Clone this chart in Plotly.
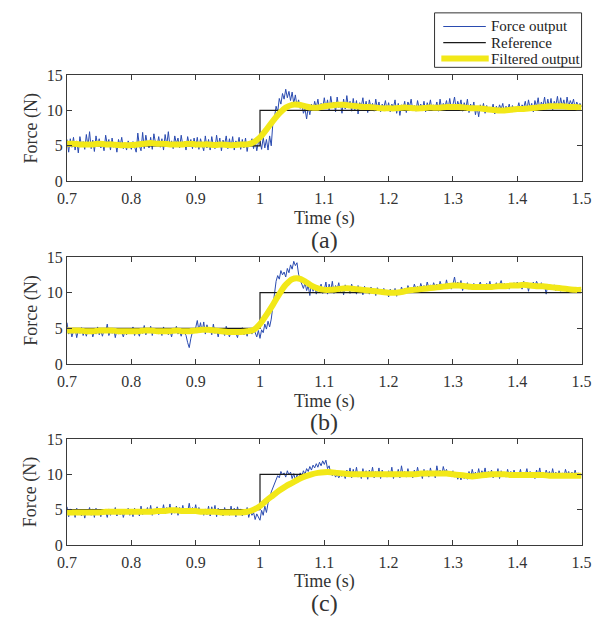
import numpy as np
import plotly.graph_objects as go

# sample times
time_raw = np.round(np.arange(0.7, 1.50001, 0.0025), 4)
time_filt = np.round(np.arange(0.7, 1.50001, 0.01), 3)

ref_time = [0.7, 1.0, 1.0, 1.5]
ref_force = [5, 5, 10, 10]

force_a = [
    5.9, 4.1, 6.0, 4.8, 6.2, 4.4, 5.7, 4.0, 6.3, 5.0, 5.6, 4.5, 6.6, 4.9, 7.0, 4.6, 5.8, 4.2, 6.4, 5.1,
    6.0, 4.7, 5.4, 4.3, 6.5, 5.2, 5.9, 4.4, 6.1, 4.8, 5.5, 4.1, 5.9, 5.0, 6.2, 4.6, 5.3, 4.4, 5.7, 5.0,
    4.5, 5.6, 4.8, 4.1, 6.8, 5.0, 4.3, 6.9, 4.6, 6.5, 5.2, 4.7, 6.2, 4.5, 6.7, 5.4, 5.0, 6.3, 4.8, 6.0,
    4.4, 6.6, 5.1, 7.0, 4.9, 5.7, 4.6, 6.4, 5.3, 6.1, 4.7, 6.5, 5.0, 5.6, 4.4, 6.3, 5.2, 5.9, 4.6, 6.1,
    4.8, 6.2, 4.5, 6.0, 5.1, 4.3, 6.4, 4.7, 5.9, 4.4, 6.3, 5.0, 4.6, 6.5, 4.9, 6.1, 4.3, 5.8, 5.2, 6.4,
    4.6, 6.0, 4.8, 6.3, 4.4, 5.7, 5.1, 6.2, 4.5, 5.9, 4.7, 6.1, 4.2, 5.6, 5.0, 6.0, 4.6, 5.8, 4.3, 5.5,
    5.7, 4.5, 6.2, 4.7, 5.9, 4.4, 6.4, 5.0, 8.2, 9.0, 10.6, 9.8, 11.7, 10.9, 12.4, 11.6, 13.0, 11.8, 12.7, 11.4,
    12.6, 11.0, 12.2, 10.6, 11.5, 10.3, 11.0, 9.6, 10.2, 8.8, 10.5, 9.4, 10.9, 10.0, 11.3, 10.4, 11.6, 10.1, 11.0, 10.3,
    11.8, 10.3, 11.5, 10.0, 12.0, 10.6, 11.2, 9.8, 11.9, 10.4, 11.0, 9.6, 11.6, 10.2, 12.1, 10.5, 11.3, 9.9, 11.7, 10.1,
    11.4, 9.5, 11.1, 10.6, 11.8, 10.0, 11.3, 9.7, 11.5, 10.4, 11.0, 9.9, 11.6, 10.3, 11.2, 9.8, 10.9, 10.4, 11.4, 10.1,
    11.1, 9.8, 10.9, 10.4, 11.5, 9.6, 11.0, 9.3, 10.8, 10.2, 11.3, 9.7, 11.2, 10.5, 11.6, 10.0, 10.7, 9.9, 11.4, 10.3,
    10.9, 10.1, 11.3, 9.8, 11.1, 10.4, 11.5, 10.0, 10.8, 10.3, 11.2, 9.9, 11.6, 10.2, 11.0, 10.5, 11.4, 10.1, 11.7, 10.3,
    10.8, 11.9, 10.2, 11.3, 10.5, 11.5, 9.9, 11.1, 10.3, 11.6, 9.7, 10.9, 10.1, 11.2, 9.4, 10.6, 9.1, 10.8, 10.0, 11.0,
    9.6, 10.7, 9.8, 10.5, 10.1, 10.9, 9.5, 10.6, 9.9, 10.8, 10.2, 11.0, 9.7, 10.6, 10.0, 10.9, 9.8, 10.7, 10.1, 10.5,
    10.2, 11.1, 9.9, 10.8, 10.4, 11.3, 10.0, 11.5, 10.3, 11.0, 9.8, 11.4, 10.5, 11.8, 10.1, 11.2, 10.6, 11.9, 10.2, 11.6,
    10.4, 11.7, 10.0, 11.3, 10.7, 12.0, 10.3, 11.8, 10.6, 11.5, 10.2, 11.9, 10.5, 11.4, 10.8, 11.6, 10.3, 11.2, 10.6, 11.0,
    10.5,
]
force_b = [
    5.8, 4.2, 4.9, 3.8, 4.6, 5.0, 3.7, 4.7, 4.3, 5.1, 4.0, 4.6, 3.9, 4.8, 4.4, 5.0, 3.8, 4.5, 4.2, 5.2,
    4.1, 4.7, 3.9, 4.8, 4.5, 5.6, 4.0, 4.6, 4.3, 5.0, 3.7, 4.8, 4.2, 4.9, 4.4, 3.8, 4.7, 4.1, 5.0, 4.4,
    4.3, 5.2, 4.0, 4.8, 4.5, 3.9, 5.0, 4.3, 5.4, 4.1, 4.7, 4.4, 5.3, 4.0, 4.9, 4.5, 5.0, 4.2, 4.8, 4.0,
    5.2, 4.4, 5.0, 4.1, 4.7, 3.8, 4.9, 4.5, 5.3, 4.2, 4.6, 3.9, 4.8, 4.3, 4.0, 3.0, 2.3, 3.6, 4.5, 4.9,
    5.1, 6.1, 4.7, 5.8, 4.5, 5.9, 4.2, 5.5, 4.6, 4.9, 4.1, 5.6, 4.3, 4.8, 3.8, 5.0, 4.4, 4.7, 4.0, 5.3,
    4.5, 3.8, 4.6, 4.2, 5.0, 4.3, 3.7, 4.8, 4.4, 5.1, 4.1, 4.6, 3.9, 4.9, 4.5, 4.2, 5.0, 4.4, 3.8, 4.7,
    3.6, 4.8, 4.4, 5.6, 4.9, 6.0, 5.2, 6.3, 8.0, 9.8, 11.6, 12.4, 11.9, 13.1, 12.5, 12.9, 12.2, 13.4, 12.8, 13.9,
    13.3, 14.4, 13.8, 14.2, 12.6, 11.8, 11.2, 10.6, 11.4, 10.3, 11.0, 9.6, 11.3, 10.2, 11.1, 9.8, 10.7, 10.4, 11.2, 9.9,
    10.4, 11.5, 9.8, 11.2, 10.3, 11.6, 9.9, 11.0, 10.5, 11.4, 10.1, 10.9, 9.7, 11.1, 10.3, 10.8, 9.9, 11.2, 10.4, 10.7,
    9.8, 11.0, 10.2, 10.6, 9.7, 10.9, 10.3, 10.5, 9.8, 10.8, 10.1, 10.4, 9.6, 10.7, 10.2, 10.5, 9.9, 10.6, 10.1, 10.3,
    9.4, 10.5, 10.0, 9.7, 10.6, 9.5, 10.3, 9.8, 10.8, 10.2, 10.6, 10.0, 11.0, 10.4, 10.7, 10.2, 11.2, 10.5, 10.9, 10.3,
    11.3, 10.6, 11.0, 10.4, 11.5, 10.7, 11.1, 10.5, 11.4, 10.8, 11.2, 10.4, 11.6, 10.9, 11.0, 10.6, 11.8, 10.7, 11.3, 10.5,
    11.2, 12.2, 10.8, 11.5, 10.9, 11.7, 10.3, 11.1, 10.7, 11.4, 10.5, 11.0, 10.8, 11.3, 10.6, 11.2, 10.9, 11.5, 10.7, 11.1,
    10.5, 11.3, 10.8, 11.6, 10.4, 11.2, 10.9, 11.4, 10.6, 11.1, 11.7, 10.8, 11.3, 10.7, 11.0, 10.5, 11.2, 10.9, 11.4, 10.8,
    11.5, 10.8, 11.2, 10.5, 11.6, 10.9, 11.4, 10.2, 11.3, 10.7, 11.5, 10.9, 11.6, 11.1, 10.8, 11.4, 10.6, 11.0, 9.8, 11.2,
    10.4, 10.9, 10.7, 11.1, 10.3, 11.0, 10.6, 10.2, 10.8, 10.4, 10.9, 10.1, 10.7, 10.3, 10.0, 10.8, 10.4, 10.6, 10.2, 10.5,
    10.4,
]
force_c = [
    5.4, 4.0, 5.1, 4.3, 4.9, 3.9, 5.2, 4.4, 4.8, 4.1, 5.0, 3.8, 4.9, 4.5, 5.3, 4.2, 5.1, 3.9, 5.2, 4.3,
    4.8, 4.0, 5.0, 4.4, 4.7, 3.9, 5.1, 4.2, 4.9, 4.5, 5.3, 4.1, 4.8, 4.3, 5.0, 3.9, 4.7, 4.4, 5.2, 4.2,
    4.9, 4.0, 5.2, 4.4, 5.0, 4.1, 5.5, 4.3, 4.9, 4.6, 5.3, 4.4, 5.6, 4.2, 5.0, 4.7, 5.4, 4.3, 5.2, 4.5,
    5.7, 4.4, 5.3, 4.6, 5.8, 4.3, 5.1, 4.5, 5.5, 4.2, 5.3, 4.6, 5.6, 4.4, 5.2, 4.7, 5.9, 4.5, 5.3, 4.6,
    5.7, 4.4, 5.3, 4.6, 5.0, 4.2, 5.1, 4.3, 5.5, 4.1, 5.4, 4.4, 5.6, 4.0, 5.2, 4.3, 4.9, 4.1, 5.3, 4.4,
    5.0, 4.2, 5.5, 4.3, 5.2, 4.0, 5.4, 4.5, 5.1, 4.1, 4.9, 4.3, 5.3, 3.9, 4.8, 4.2, 4.6, 3.6, 4.4, 4.0,
    3.5, 4.9, 4.2, 5.5, 4.6, 5.9, 6.4, 7.5, 8.1, 8.9, 9.3, 9.8, 9.5, 10.4, 9.9, 10.2, 9.6, 10.5, 9.9, 10.3,
    9.4, 10.1, 9.2, 9.9, 9.5, 10.2, 9.7, 10.5, 10.0, 10.8, 10.4, 11.1, 10.6, 11.3, 10.9, 11.5, 11.0, 11.7, 11.2, 11.9,
    11.4, 12.0, 10.8, 11.2, 10.1, 9.8, 10.2, 9.6, 10.0, 9.5, 9.9, 9.7, 10.1, 9.4, 10.6, 9.8, 10.9, 9.5, 10.7, 9.7,
    11.0, 9.6, 10.3, 9.4, 10.8, 9.7, 10.5, 9.3, 10.6, 9.8, 11.0, 9.5, 10.4, 9.7, 10.9, 9.4, 10.6, 9.8, 10.3, 9.6,
    10.5, 9.7, 11.0, 9.4, 10.3, 9.8, 10.7, 9.5, 11.2, 9.9, 10.4, 9.6, 10.8, 9.8, 10.2, 9.5, 10.6, 9.7, 11.0, 9.9,
    10.3, 9.4, 10.7, 9.8, 10.5, 9.6, 10.9, 9.9, 10.4, 9.5, 11.2, 10.0, 10.6, 9.8, 11.1, 10.2, 10.7, 9.9, 10.4, 10.0,
    10.5, 9.6, 10.2, 9.3, 9.9, 9.2, 10.1, 9.4, 9.8, 9.3, 10.4, 9.5, 10.7, 9.8, 10.3, 9.6, 10.8, 9.7, 10.5, 9.9,
    10.9, 9.6, 10.4, 9.8, 10.6, 9.5, 10.2, 9.7, 10.8, 9.4, 10.5, 9.9, 10.3, 9.6, 10.7, 9.8, 10.4, 9.5, 10.6, 9.7,
    10.3, 9.8, 10.7, 9.5, 10.2, 9.9, 10.8, 9.6, 10.4, 9.7, 10.1, 9.4, 10.6, 9.8, 10.9, 9.5, 10.3, 9.7, 10.6, 9.9,
    10.4, 9.6, 10.8, 9.7, 10.3, 9.5, 10.5, 9.8, 10.2, 9.6, 10.7, 9.9, 10.4, 9.5, 10.3, 9.8, 10.6, 9.7, 10.2, 9.9,
    9.8,
]

filt_a = [
    5.3, 5.3, 5.2, 5.2, 5.2, 5.3, 5.2, 5.2, 5.1, 5.1,
    5.1, 5.2, 5.3, 5.4, 5.3, 5.3, 5.2, 5.2, 5.2, 5.3,
    5.2, 5.2, 5.2, 5.1, 5.2, 5.1, 5.1, 5.2, 5.2, 5.5,
    6.2, 7.3, 8.5, 9.6, 10.4, 10.8, 10.8, 10.6, 10.4, 10.4,
    10.6, 10.7, 10.8, 10.8, 10.7, 10.6, 10.5, 10.5, 10.4, 10.3,
    10.3, 10.3, 10.4, 10.4, 10.3, 10.3, 10.4, 10.4, 10.4, 10.5,
    10.5, 10.5, 10.4, 10.3, 10.3, 10.2, 10.1, 10.0, 10.0, 10.1,
    10.2, 10.2, 10.3, 10.4, 10.5, 10.6, 10.6, 10.6, 10.5, 10.5, 10.4,
]
filt_b = [
    4.7, 4.7, 4.7, 4.6, 4.6, 4.7, 4.7, 4.7, 4.6, 4.6,
    4.6, 4.6, 4.7, 4.7, 4.6, 4.6, 4.6, 4.7, 4.6, 4.6,
    4.7, 4.8, 4.8, 4.7, 4.6, 4.5, 4.5, 4.5, 4.6, 4.8,
    5.6, 6.9, 8.3, 9.8, 11.1, 11.9, 12.0, 11.6, 11.0, 10.6,
    10.4, 10.4, 10.5, 10.6, 10.6, 10.5, 10.4, 10.3, 10.2, 10.1,
    10.0, 10.0, 10.1, 10.3, 10.4, 10.5, 10.6, 10.7, 10.8, 10.9,
    11.0, 11.0, 10.9, 10.8, 10.8, 10.8, 10.8, 10.9, 10.9, 11.0,
    11.0, 11.1, 11.0, 10.9, 10.9, 10.8, 10.7, 10.6, 10.5, 10.4, 10.4,
]
filt_c = [
    4.6, 4.6, 4.6, 4.6, 4.6, 4.6, 4.7, 4.7, 4.7, 4.7,
    4.7, 4.7, 4.7, 4.7, 4.8, 4.8, 4.9, 4.9, 4.8, 4.8,
    4.8, 4.7, 4.7, 4.7, 4.6, 4.6, 4.6, 4.6, 4.7, 5.0,
    5.5, 6.3, 7.0, 7.7, 8.3, 8.8, 9.3, 9.7, 10.0, 10.2,
    10.3, 10.3, 10.2, 10.1, 10.0, 10.0, 10.0, 10.0, 10.0, 10.0,
    10.0, 10.0, 10.0, 10.0, 10.0, 10.1, 10.1, 10.1, 10.1, 10.1,
    10.0, 9.9, 9.8, 9.7, 9.8, 9.9, 10.0, 10.0, 10.0, 9.9,
    9.9, 9.9, 9.9, 9.9, 9.9, 9.8, 9.8, 9.8, 9.8, 9.8, 9.8,
]

x_ticks = [0.7, 0.8, 0.9, 1.0, 1.1, 1.2, 1.3, 1.4, 1.5]
x_tick_text = ["0.7", "0.8", "0.9", "1", "1.1", "1.2", "1.3", "1.4", "1.5"]
y_ticks = [0, 5, 10, 15]
panel_labels = ["(a)", "(b)", "(c)"]
legend_names = ["Force output", "Reference", "Filtered output"]

W, H = 608, 625
FONT = "Liberation Serif, Times New Roman, Times, serif"
BLUE = "#2a4bb0"
YELLOW = "#f2e818"
REFC = "#1a1a1a"
AXC = "#3a3a3a"

# pixel layout of each panel: (top, bottom)
panels = [(69, 178), (256, 366), (443, 552)]
x_left, x_right = 59, 591

fig = go.Figure()
series = [(force_a, filt_a), (force_b, filt_b), (force_c, filt_c)]
annotations = []
shapes = []
for i, ((raw, filt), (top, bot)) in enumerate(zip(series, panels)):
    xa = "x" if i == 0 else f"x{i+1}"
    ya = "y" if i == 0 else f"y{i+1}"
    n = min(len(raw), len(time_raw))
    fig.add_trace(go.Scatter(x=time_raw[:n], y=raw[:n], mode="lines", name=legend_names[0],
                             line=dict(color=BLUE, width=1), xaxis=xa, yaxis=ya, showlegend=False))
    fig.add_trace(go.Scatter(x=ref_time, y=ref_force, mode="lines", name=legend_names[1],
                             line=dict(color=REFC, width=1.2), xaxis=xa, yaxis=ya, showlegend=False))
    fig.add_trace(go.Scatter(x=time_filt, y=filt, mode="lines", name=legend_names[2],
                             line=dict(color=YELLOW, width=6, shape="spline"), xaxis=xa, yaxis=ya,
                             showlegend=False))
    axis_common = dict(showline=True, linecolor=AXC, linewidth=1, mirror="ticks", ticks="inside",
                       ticklen=5, tickcolor=AXC, showgrid=False, zeroline=False,
                       tickfont=dict(family=FONT, size=16, color="#333"))
    xd = dict(domain=[x_left / W, x_right / W], range=[0.7, 1.5], tickvals=x_ticks,
              ticktext=x_tick_text, anchor=ya, ticklabelstandoff=3, **axis_common)
    yd = dict(domain=[1 - bot / H, 1 - top / H], range=[0, 15], tickvals=y_ticks,
              anchor=xa, **axis_common)
    key = "" if i == 0 else str(i + 1)
    fig.layout["xaxis" + key] = xd
    fig.layout["yaxis" + key] = yd
    cx = (x_left + x_right) / 2 / W
    annotations.append(dict(text="Time (s)", x=cx, y=1 - (bot + 38) / H, xref="paper", yref="paper",
                            showarrow=False, font=dict(family=FONT, size=18, color="#333"),
                            xanchor="center", yanchor="middle"))
    annotations.append(dict(text=panel_labels[i], x=cx, y=1 - (bot + 60) / H, xref="paper", yref="paper",
                            showarrow=False, font=dict(family=FONT, size=24, color="#333"),
                            xanchor="center", yanchor="middle"))
    annotations.append(dict(text="Force (N)", x=22 / W, y=1 - (top + bot) / 2 / H, xref="paper",
                            yref="paper", showarrow=False, textangle=-90,
                            font=dict(family=FONT, size=18, color="#333"),
                            xanchor="center", yanchor="middle"))

# legend box drawn in paper coordinates
def px(x):
    return x / W

def py(y):
    return 1 - y / H

shapes.append(dict(type="rect", xref="paper", yref="paper", x0=px(439), x1=px(591), y0=py(61), y1=py(5),
                   line=dict(color="#333", width=1), fillcolor="white", layer="above"))
legend_styles = [(BLUE, 1.2, 448, 492), (REFC, 1.2, 448, 492), (YELLOW, 6, 446, 495)]
for k, (name, (col, wdt, x0, x1)) in enumerate(zip(legend_names, legend_styles)):
    yc = 19 + k * 16.5
    shapes.append(dict(type="line", xref="paper", yref="paper", x0=px(x0), x1=px(x1), y0=py(yc), y1=py(yc),
                       line=dict(color=col, width=wdt), layer="above"))
    annotations.append(dict(text=name, x=px(495), y=py(yc), xref="paper", yref="paper", showarrow=False,
                            xanchor="left", yanchor="middle",
                            font=dict(family=FONT, size=15, color="#222")))

fig.update_layout(
    width=W, height=H, margin=dict(l=0, r=0, t=0, b=0),
    paper_bgcolor="white", plot_bgcolor="white",
    annotations=annotations, shapes=shapes, showlegend=False,
)
fig.write_html("out.html")
